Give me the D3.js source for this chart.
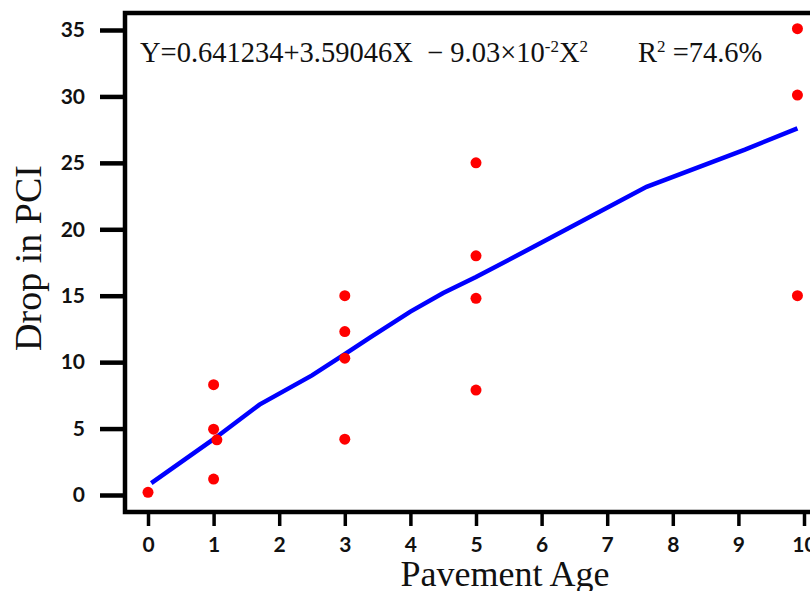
<!DOCTYPE html>
<html>
<head>
    <meta charset="UTF-8">
    <title>Drop in PCI vs Pavement Age</title>
    <style>
        body { margin: 0; background: white; }
        .tick text { font-family: Lato, "Open Sans", sans-serif; font-weight: bold; font-size: 21px; fill: #111; }
        .title { font-family: "Liberation Serif", "Times New Roman", serif; fill: #111; white-space: pre; }
    </style>
</head>
<body>
    <svg width="810" height="591"></svg>
    <script src="https://d3js.org/d3.v7.min.js"></script>
    <script>
        // observed points
        let ageVals  = [0, 1.0, 1.0, 1.05, 1.0, 3.0, 3.0, 3.0, 3.0, 5.0, 5.0, 5.0, 5.0, 9.9, 9.9, 9.9]
        let dropVals = [0.2, 8.3, 4.95, 4.15, 1.2, 15.0, 12.3, 10.3, 4.2, 25.0, 18.0, 14.8, 7.9, 35.1, 30.1, 15.0]

        // fitted curve
        let fitAge  = [0.05, 1.0, 1.7, 2.5, 3.0, 3.4, 4.0, 4.5, 5.0, 6.0, 7.6, 9.1, 9.9]
        let fitDrop = [0.9, 4.2, 6.8, 9.0, 10.6, 11.9, 13.8, 15.2, 16.4, 19.0, 23.2, 26.0, 27.6]

        let xTicks = [0, 1, 2, 3, 4, 5, 6, 7, 8, 9, 10]
        let yTicks = [0, 5, 10, 15, 20, 25, 30, 35]

        let svg = d3.select("svg")

        let x = d3.scaleLinear().domain([0, 10]).range([148, 804])
        let y = d3.scaleLinear().domain([0, 35]).range([495, 30])

        let axLeft = 125, axTop = 13, axBottom = 512

        // y axis ticks
        svg.append("g")
            .attr("transform", "translate(" + axLeft + ",0)")
            .call(d3.axisLeft(y).tickValues(yTicks).tickSize(25).tickPadding(15))
            .call(g => g.select(".domain").remove())
            .call(g => g.selectAll(".tick line").attr("stroke", "black").attr("stroke-width", 4.5))

        // x axis ticks
        svg.append("g")
            .attr("transform", "translate(0," + (axBottom + 2) + ")")
            .call(d3.axisBottom(x).tickValues(xTicks).tickSize(12).tickPadding(11))
            .call(g => g.select(".domain").remove())
            .call(g => g.selectAll(".tick line").attr("stroke", "black").attr("stroke-width", 3.5))

        // frame
        svg.append("path")
            .attr("d", "M810," + axTop + "H" + axLeft + "V" + axBottom + "H810")
            .attr("fill", "none")
            .attr("stroke", "black")
            .attr("stroke-width", 4.5)

        // fitted line
        let line = d3.line()
            .x((d, i) => x(fitAge[i]))
            .y(d => y(d))
        svg.append("path")
            .datum(fitDrop)
            .attr("d", line)
            .attr("fill", "none")
            .attr("stroke", "#0000ff")
            .attr("stroke-width", 4.5)

        // points
        svg.append("g")
            .selectAll("circle")
            .data(dropVals)
            .enter()
            .append("circle")
            .attr("cx", (d, i) => x(ageVals[i]))
            .attr("cy", d => y(d))
            .attr("r", 5.5)
            .attr("fill", "#ff0000")

        // equation
        let eq = svg.append("text")
            .attr("class", "title")
            .attr("x", 140)
            .attr("y", 62)
            .style("font-size", "28.5px")
        eq.append("tspan").text("Y=0.641234+3.59046X  \u2212 9.03\u00d710")
        eq.append("tspan").attr("dy", -10).style("font-size", "17px").text("-2")
        eq.append("tspan").attr("dy", 10).text("X")
        eq.append("tspan").attr("dy", -10).style("font-size", "17px").text("2")

        let r2 = svg.append("text")
            .attr("class", "title")
            .attr("x", 638)
            .attr("y", 62)
            .style("font-size", "28.5px")
        r2.append("tspan").text("R")
        r2.append("tspan").attr("dy", -10).style("font-size", "17px").text("2")
        r2.append("tspan").attr("dy", 10).text(" =74.6%")

        // axis titles
        svg.append("text")
            .attr("class", "title")
            .attr("transform", "translate(41,258) rotate(-90)")
            .attr("text-anchor", "middle")
            .style("font-size", "38px")
            .text("Drop in PCI")

        svg.append("text")
            .attr("class", "title")
            .attr("x", 505)
            .attr("y", 586)
            .attr("text-anchor", "middle")
            .style("font-size", "36px")
            .text("Pavement Age")
    </script>
</body>
</html>
